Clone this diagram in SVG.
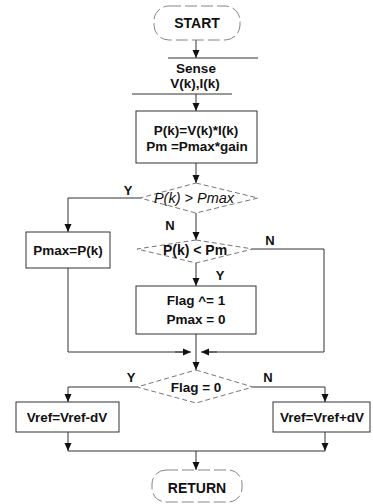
<svg xmlns="http://www.w3.org/2000/svg" width="373" height="504" viewBox="0 0 373 504">
<defs>
<marker id="ah" viewBox="0 0 8 8" refX="8" refY="4" markerWidth="8" markerHeight="8" markerUnits="userSpaceOnUse" orient="auto">
<path d="M0,0.5 L8,4 L0,7.5 Z" fill="#111"/>
</marker>
</defs>
<style>
text{font-family:"Liberation Sans",Arial,sans-serif;font-weight:bold;font-size:13.5px;fill:#111;text-anchor:middle}
.box{fill:#fff;stroke:#333;stroke-width:1}
.dia{fill:#fff;stroke:#666;stroke-width:0.9;stroke-dasharray:5 3}
.term{fill:#fff;stroke:#777;stroke-width:0.9;stroke-dasharray:12 4}
.ln{fill:none;stroke:#333;stroke-width:1}
.arr{fill:none;stroke:#333;stroke-width:1;marker-end:url(#ah)}
.lbl{font-size:13px}
.big{font-size:14px}
.it{font-weight:normal;font-style:italic;font-size:14.5px}
</style>
<g id="connectors">
<path class="arr" d="M196,40 V58"/>
<path class="arr" d="M196,94 V111"/>
<path class="arr" d="M196,163 V183"/>
<path class="arr" d="M140,198 H68 V232"/>
<path class="arr" d="M196,213 V240"/>
<path class="arr" d="M196,263 V286"/>
<path class="ln" d="M253,249 H324 V352 H204"/>
<path class="ln" d="M68,268 V352 H188"/>
<path class="arr" d="M175,352 H191"/>
<path class="arr" d="M217,352 H201"/>
<path class="arr" d="M196,334 V370"/>
<path class="arr" d="M137,387 H68 V402"/>
<path class="arr" d="M253,387 H325 V402"/>
<path class="arr" d="M68,432 V451"/>
<path class="arr" d="M325,432 V451"/>
<path class="ln" d="M68,451 H325"/>
<path class="arr" d="M196,451 V470"/>
<text class="lbl" x="128" y="195">Y</text>
<text class="lbl" x="170" y="230">N</text>
<text class="lbl" x="270" y="245">N</text>
<text class="lbl" x="220" y="280">Y</text>
<text class="lbl" x="131" y="382">Y</text>
<text class="lbl" x="268" y="382">N</text>
</g>
<g id="start">
<rect class="term" x="154" y="6" width="86" height="34" rx="15"/>
<text class="big" x="197" y="28">START</text>
</g>
<g id="sense">
<path class="ln" d="M168,58 H258 M132,94 H232"/>
<text x="196" y="73">Sense</text>
<text x="195" y="88">V(k),I(k)</text>
</g>
<g id="calc">
<rect class="box" x="136" y="111" width="121" height="52"/>
<text x="196" y="135">P(k)=V(k)*I(k)</text>
<text x="197" y="151">Pm =Pmax*gain</text>
</g>
<g id="dec1">
<polygon class="dia" points="196,183 258,198 196,213 140,198"/>
<text class="it" x="194" y="203">P(k) &gt; Pmax</text>
</g>
<g id="setmax">
<rect class="box" x="26" y="232" width="84" height="36"/>
<text x="68" y="255">Pmax=P(k)</text>
</g>
<g id="dec2">
<polygon class="dia" points="196,240 253,249 196,263 137,249"/>
<text class="big" x="195" y="255">P(k) &lt; Pm</text>
</g>
<g id="flagbox">
<rect class="box" x="136" y="286" width="120" height="48"/>
<text x="196" y="305">Flag ^= 1</text>
<text x="196" y="324">Pmax = 0</text>
</g>
<g id="dec3">
<polygon class="dia" points="196,370 253,387 196,403 137,387"/>
<text x="196" y="392">Flag = 0</text>
</g>
<g id="vdec">
<rect class="box" x="16" y="402" width="103" height="30"/>
<text x="67" y="422">Vref=Vref-dV</text>
</g>
<g id="vinc">
<rect class="box" x="273" y="402" width="97" height="30"/>
<text x="322" y="422">Vref=Vref+dV</text>
</g>
<g id="return">
<rect class="term" x="152" y="470" width="90" height="32" rx="14"/>
<text class="big" x="197" y="493">RETURN</text>
</g>
</svg>
